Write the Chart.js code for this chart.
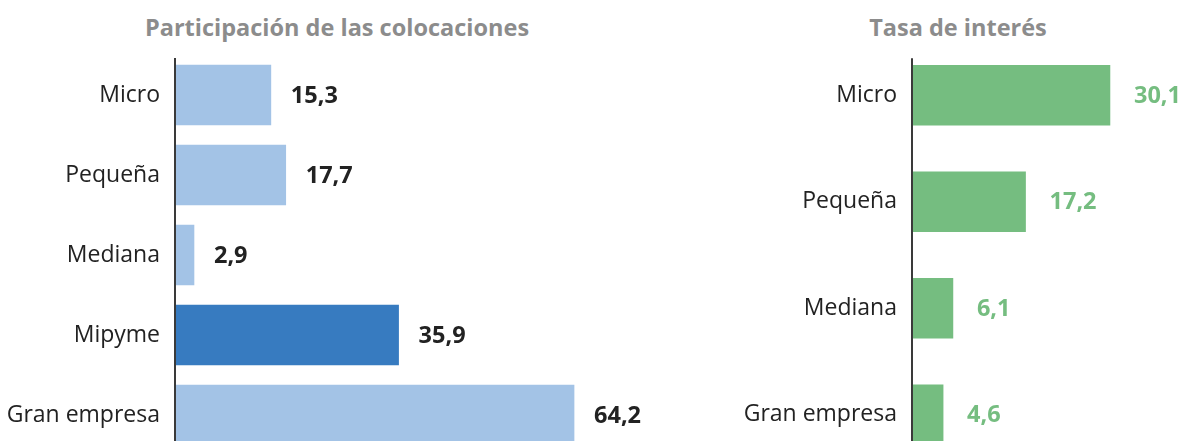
<!DOCTYPE html>
<html>
<head>
<meta charset="utf-8">
<script src="https://cdn.jsdelivr.net/npm/chart.js@4"></script>
<style>
  html, body { margin: 0; padding: 0; background: #fff; overflow: hidden; width: 1181px; height: 441px; }
  .title { position: absolute; top: 11px; line-height: 30px; font: bold 23.5px 'Open Sans', sans-serif; color: #8c8c8c; text-align: center; }
  #leftTitle { left: 0; width: 674px; }
  #rightTitle { left: 808px; width: 300px; }
  #leftChart { position: absolute; left: 0; top: 0; }
  #rightChart { position: absolute; left: 720px; top: 0; }
</style>
</head>
<body>
<div class="title" id="leftTitle">Participación de las colocaciones</div>
<div class="title" id="rightTitle">Tasa de interés</div>
<canvas id="leftChart" width="720" height="470"></canvas>
<canvas id="rightChart" width="461" height="470"></canvas>
<script>
// Data
const shareCategories = ['Micro', 'Pequeña', 'Mediana', 'Mipyme', 'Gran empresa'];
const shareValues = [15.3, 17.7, 2.9, 35.9, 64.2];
const shareColors = ['#a3c3e6', '#a3c3e6', '#a3c3e6', '#377bc0', '#a3c3e6'];

const rateCategories = ['Micro', 'Pequeña', 'Mediana', 'Gran empresa'];
const rateValues = [30.1, 17.2, 6.1, 4.6];
const rateColor = '#75bd80';

// Draws the value next to each bar and the vertical axis line
function makeLabelPlugin(color, gap) {
  return {
    id: 'valueLabels',
    afterDatasetsDraw(chart) {
      const ctx = chart.ctx;
      const meta = chart.getDatasetMeta(0);
      const values = chart.data.datasets[0].data;
      ctx.save();
      ctx.font = 'bold 23.5px "Open Sans", sans-serif';
      ctx.fillStyle = color;
      ctx.textAlign = 'left';
      ctx.textBaseline = 'middle';
      meta.data.forEach((bar, i) => {
        const text = values[i].toFixed(1).replace('.', ',');
        ctx.fillText(text, bar.x + gap, bar.y + 1);
      });
      // axis line
      const first = meta.data[0];
      const top = first.y - first.height / 2 - 7;
      ctx.strokeStyle = '#3a3a3a';
      ctx.lineWidth = 2;
      ctx.beginPath();
      ctx.moveTo(chart.chartArea.left - 1, top);
      ctx.lineTo(chart.chartArea.left - 1, chart.height);
      ctx.stroke();
      ctx.restore();
    }
  };
}

function buildChart(id, categories, values, colors, opts) {
  return new Chart(document.getElementById(id), {
    type: 'bar',
    data: {
      labels: categories,
      datasets: [{
        data: values,
        backgroundColor: colors,
        borderWidth: 0,
        barThickness: 60
      }]
    },
    options: {
      indexAxis: 'y',
      responsive: false,
      animation: false,
      layout: { padding: opts.padding },
      scales: {
        x: {
          display: false,
          min: 0,
          max: opts.xMax
        },
        y: {
          grid: { display: false, drawTicks: false },
          border: { display: false },
          ticks: {
            padding: 16,
            color: '#222',
            font: { family: 'Open Sans', size: 23 }
          },
          afterFit(scale) {
            scale.width = opts.axisWidth;
            scale.paddingTop = 0;
            scale.paddingBottom = 0;
          }
        }
      },
      plugins: {
        legend: { display: false },
        tooltip: { enabled: false }
      }
    },
    plugins: [makeLabelPlugin(opts.labelColor, opts.gap)]
  });
}

// canvases are taller than the page so the last bar is cut off like the original
buildChart('leftChart', shareCategories, shareValues, shareColors, {
  padding: { top: 55, bottom: 15, left: 0, right: 48 },
  xMax: 80,
  axisWidth: 176,
  labelColor: '#222',
  gap: 20
});

buildChart('rightChart', rateCategories, rateValues, rateColor, {
  padding: { top: 42, bottom: 2, left: 0, right: 39 },
  xMax: 35,
  axisWidth: 193,
  labelColor: rateColor,
  gap: 24
});
</script>
</body>
</html>
